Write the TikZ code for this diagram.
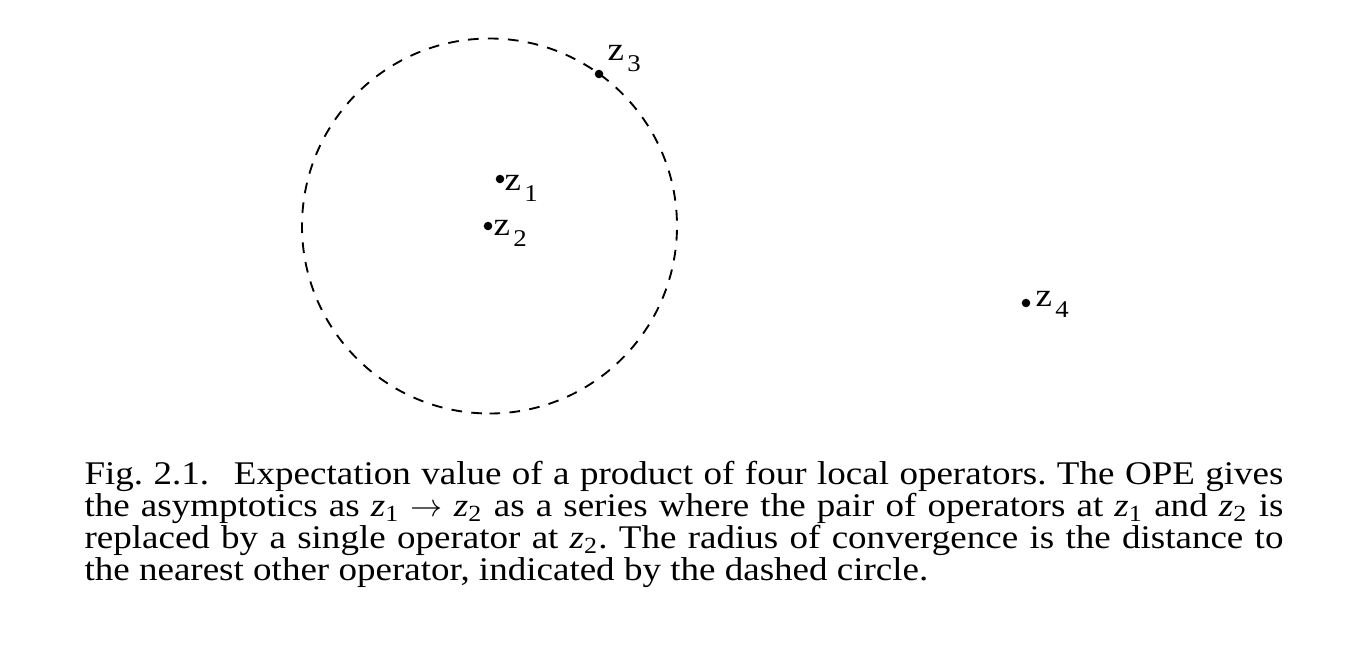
\documentclass[tikz,border=0pt]{standalone}
\usepackage{fontspec}
\setmainfont{Liberation Serif}[FakeStretch=1.12]
\usepackage{tikz}
\usetikzlibrary{positioning}

\tikzset{
  point/.style = {circle, fill=black, inner sep=0pt, minimum size=3.2pt},
  ptlabel/.style = {inner sep=0pt, anchor=base west, font=\fontsize{12.4}{12}\selectfont},
  convcircle/.style = {line width=0.7pt, dash pattern=on 4pt off 3.5pt},
  caption/.style = {inner sep=0pt, anchor=north west, text width=449.6pt, align=justify,
    font=\fontsize{12.4}{12}\selectfont}
}
\newcommand{\zlab}[1]{z\kern1.3pt\raisebox{-4.3pt}{\fontsize{9}{9}\selectfont #1}}
\newcommand{\zcap}[1]{\textit{z}\textsubscript{#1}}

\begin{document}
\frenchspacing
\begin{tikzpicture}[x=0.375pt, y=-0.375pt]
  \useasboundingbox (0,0) rectangle (1350,644);

  % region of convergence
  \draw[convcircle] (489.5,413.5) arc[start angle=-90, end angle=270, radius=70.3125pt];

  % operator insertions
  \node[point] (z1) at (500,179) {};
  \node[point] (z2) at (488,226) {};
  \node[point] (z3) at (599,74) {};
  \node[point] (z4) at (1026,303) {};

  \node[ptlabel] (z1l) at (504,190) {\zlab{1}};
  \node[ptlabel] (z2l) at (493,235) {\zlab{2}};
  \node[ptlabel] (z3l) at (607,60) {\zlab{3}};
  \node[ptlabel] (z4l) at (1035,306) {\zlab{4}};

  % caption
  \node[caption] (cap) at (84,461) {Fig. 2.1.\hspace{0.75em}Expectation value of a product of four local operators. The OPE gives\linebreak
    the asymptotics as \zcap{1}~$\rightarrow$ \zcap{2} as a series where the pair of operators at \zcap{1} and \zcap{2} is\linebreak
    replaced by a single operator at \zcap{2}. The radius of convergence is the distance to\linebreak
    the nearest other operator, indicated by the dashed circle.};
\end{tikzpicture}
\end{document}
